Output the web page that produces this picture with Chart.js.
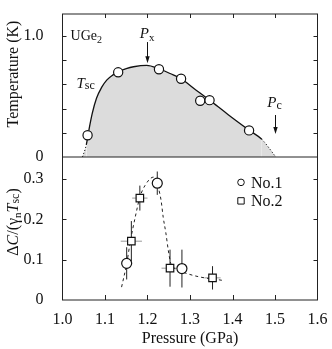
<!DOCTYPE html>
<html>
<head>
<meta charset="utf-8">
<script src="https://cdn.jsdelivr.net/npm/chart.js@4/dist/chart.umd.min.js"></script>
<style>
	html, body { margin: 0; padding: 0; background: #fff; }
	#wrap { position: relative; width: 332px; height: 349px; }
</style>
</head>
<body>
<div id="wrap"><canvas id="chart" width="332" height="349"></canvas></div>
<script>
const FONT = "'Liberation Serif', 'Times New Roman', serif";

// top panel: measured Tsc points
const tscP = [1.059, 1.131, 1.227, 1.279, 1.324, 1.346, 1.439];
const tscT = [0.18, 0.70, 0.725, 0.647, 0.465, 0.47, 0.22];
// Tsc guide line (ends are dotted)
const lineP = [1.047, 1.056, 1.062, 1.070, 1.080, 1.092, 1.104, 1.118, 1.131, 1.150, 1.167, 1.198, 1.227, 1.253, 1.279, 1.310, 1.346, 1.390, 1.439, 1.469, 1.502];
const lineT = [0, 0.10, 0.22, 0.36, 0.485, 0.575, 0.636, 0.677, 0.703, 0.730, 0.746, 0.758, 0.730, 0.690, 0.647, 0.565, 0.470, 0.350, 0.222, 0.146, 0];

// bottom panel: jump of specific heat
const no1P = [1.151, 1.223, 1.281];
const no1C = [0.091, 0.290, 0.078];
const no1Err = [0.04, 0.029, 0.047];
const no2P = [1.162, 1.182, 1.253, 1.353];
const no2C = [0.146, 0.253, 0.079, 0.055];
const no2Err = [0.05, 0.031, 0.046, 0.029];
const no2PErr = [0.025, 0.018, 0.02, 0.019];
// dashed guide
const fitP = [1.139, 1.151, 1.160, 1.171, 1.182, 1.194, 1.214, 1.225, 1.232, 1.237, 1.243, 1.249, 1.255, 1.265, 1.292, 1.324, 1.375];
const fitC = [0.032, 0.09, 0.148, 0.205, 0.255, 0.284, 0.305, 0.280, 0.247, 0.205, 0.168, 0.123, 0.09, 0.078, 0.066, 0.057, 0.049];

const xLabelText = "Pressure (GPa)";

const pts = (xs, ys) => xs.map((x, i) => ({ x: x, y: ys[i] }));

function drawRich(ctx, parts, x, y) {
	let cx = x;
	parts.forEach((p) => {
		ctx.font = (p.italic ? "italic " : "") + p.size + "px " + FONT;
		ctx.fillText(p.t, cx, y + (p.dy || 0));
		cx += ctx.measureText(p.t).width;
	});
	return cx - x;
}
function richWidth(ctx, parts) {
	let w = 0;
	parts.forEach((p) => {
		ctx.font = (p.italic ? "italic " : "") + p.size + "px " + FONT;
		w += ctx.measureText(p.t).width;
	});
	return w;
}
function arrow(ctx, x, y1, y2) {
	ctx.beginPath();
	ctx.moveTo(x, y1);
	ctx.lineTo(x, y2 - 5);
	ctx.stroke();
	ctx.beginPath();
	ctx.moveTo(x, y2);
	ctx.lineTo(x - 2.2, y2 - 7);
	ctx.lineTo(x + 2.2, y2 - 7);
	ctx.closePath();
	ctx.fill();
}
// keep the plot box where the picture has it
function fixBox(width, height) {
	return (s) => {
		if (width) s.width = width;
		if (height) s.height = height;
		s.paddingTop = 0;
		s.paddingBottom = 0;
		s.paddingLeft = 0;
		s.paddingRight = 0;
	};
}

const framePlugin = {
	id: "frame",
	beforeDatasetsDraw(chart) {
		// error bars
		const ctx = chart.ctx;
		const x = chart.scales.x;
		const y = chart.scales.yB;
		ctx.save();
		ctx.lineWidth = 1;
		ctx.strokeStyle = "#999";
		no2P.forEach((p, i) => {
			const py = y.getPixelForValue(no2C[i]);
			ctx.beginPath();
			ctx.moveTo(x.getPixelForValue(p - no2PErr[i]), py);
			ctx.lineTo(x.getPixelForValue(p + no2PErr[i]), py);
			ctx.stroke();
		});
		ctx.strokeStyle = "#222";
		const vbar = (p, c, e) => {
			const px = x.getPixelForValue(p);
			ctx.beginPath();
			ctx.moveTo(px, y.getPixelForValue(c - e));
			ctx.lineTo(px, y.getPixelForValue(c + e));
			ctx.stroke();
		};
		no1P.forEach((p, i) => vbar(p, no1C[i], no1Err[i]));
		no2P.forEach((p, i) => vbar(p, no2C[i], no2Err[i]));
		ctx.restore();
	},
	afterDraw(chart) {
		const ctx = chart.ctx;
		const a = chart.chartArea;
		const x = chart.scales.x;
		const yT = chart.scales.yT;
		const yB = chart.scales.yB;
		ctx.save();
		ctx.strokeStyle = "#222";
		ctx.lineWidth = 1;
		ctx.strokeRect(a.left, a.top, a.right - a.left, a.bottom - a.top);
		const mid = yT.getPixelForValue(0);
		ctx.beginPath();
		ctx.moveTo(a.left, mid);
		ctx.lineTo(a.right, mid);
		ctx.stroke();
		// inward ticks
		ctx.beginPath();
		x.ticks.forEach((t) => {
			if (t.value <= 1.0001 || t.value >= 1.5999) return;
			const px = Math.round(x.getPixelForValue(t.value)) + 0.5;
			ctx.moveTo(px, a.top);
			ctx.lineTo(px, a.top + 4);
			ctx.moveTo(px, a.bottom);
			ctx.lineTo(px, a.bottom - 5);
		});
		[yT, yB].forEach((s) => {
			s.ticks.forEach((t) => {
				if (t.value === 0) return;
				const py = Math.round(s.getPixelForValue(t.value)) + 0.5;
				ctx.moveTo(a.left, py);
				ctx.lineTo(a.left + 4, py);
				ctx.moveTo(a.right, py);
				ctx.lineTo(a.right - 4, py);
			});
		});
		ctx.stroke();

		// axis titles (rotated)
		ctx.fillStyle = "#111";
		ctx.textBaseline = "alphabetic";
		const t1 = [{ t: "Temperature (K)", size: 16 }];
		ctx.save();
		ctx.translate(18, 74);
		ctx.rotate(-Math.PI / 2);
		drawRich(ctx, t1, -richWidth(ctx, t1) / 2, 0);
		ctx.restore();
		const t2 = [
			{ t: "\u0394", size: 16 },
			{ t: "C", size: 16, italic: true },
			{ t: "/(\u03b3", size: 16 },
			{ t: "n", size: 11, dy: 3 },
			{ t: "T", size: 16, italic: true },
			{ t: "sc", size: 12, dy: 1 },
			{ t: ")", size: 16 },
		];
		ctx.save();
		ctx.translate(18, 222);
		ctx.rotate(-Math.PI / 2);
		drawRich(ctx, t2, -richWidth(ctx, t2) / 2, 0);
		ctx.restore();

		// labels in top panel
		const bl = (v, s) => s.getPixelForValue(v);
		drawRich(ctx, [{ t: "UGe", size: 14 }, { t: "2", size: 10, dy: 3 }], x.getPixelForValue(1.019), bl(0.97, yT));
		drawRich(ctx, [{ t: "P", size: 15, italic: true }, { t: "x", size: 11, dy: 3 }], x.getPixelForValue(1.182), bl(0.985, yT));
		drawRich(ctx, [{ t: "T", size: 15, italic: true }, { t: "sc", size: 12, dy: 1 }], x.getPixelForValue(1.033), bl(0.57, yT));
		drawRich(ctx, [{ t: "P", size: 15, italic: true }, { t: "c", size: 12, dy: 2 }], x.getPixelForValue(1.482), bl(0.415, yT));
		ctx.fillStyle = "#111";
		ctx.strokeStyle = "#111";
		arrow(ctx, Math.round(x.getPixelForValue(1.2)) + 0.5, bl(0.95, yT), bl(0.775, yT));
		arrow(ctx, Math.round(x.getPixelForValue(1.5)) + 0.5, bl(0.347, yT), bl(0.19, yT));

		// legend for the bottom panel
		const lx = x.getPixelForValue(1.42);
		let ly = yB.getPixelForValue(0.292);
		chart.data.datasets.filter((d) => d.label).forEach((d) => {
			ctx.lineWidth = 1;
			ctx.strokeStyle = "#111";
			ctx.beginPath();
			if (d.pointStyle === "rect") ctx.rect(lx - 3.2, ly - 3.2, 6.4, 6.4);
			else ctx.arc(lx, ly, 3.3, 0, Math.PI * 2);
			ctx.stroke();
			ctx.font = "16px " + FONT;
			ctx.textBaseline = "middle";
			ctx.fillText(d.label, lx + 10, ly + 1);
			ly += 18.5;
		});
		ctx.restore();
	},
};

new Chart(document.getElementById("chart"), {
	type: "scatter",
	data: {
		datasets: [
			{
				data: pts(tscP, tscT),
				yAxisID: "yT",
				pointStyle: "circle",
				pointRadius: 4.6,
				pointBorderWidth: 1.2,
				pointBackgroundColor: "#fff",
				pointBorderColor: "#111",
				showLine: false,
				order: 1,
			},
			{
				data: pts(lineP, lineT),
				yAxisID: "yT",
				showLine: true,
				pointRadius: 0,
				borderColor: "#111",
				borderWidth: 1.3,
				backgroundColor: "#dcdcdc",
				fill: "origin",
				cubicInterpolationMode: "monotone",
				segment: {
					borderDash: (c) =>
						c.p0DataIndex === 0 || c.p1DataIndex === lineP.length - 1 ? [1.2, 2] : undefined,
					borderWidth: (c) =>
						c.p0DataIndex === 0 || c.p1DataIndex === lineP.length - 1 ? 1 : undefined,
				},
				order: 5,
			},
			{
				label: "No.1",
				data: pts(no1P, no1C),
				yAxisID: "yB",
				pointStyle: "circle",
				pointRadius: 5,
				pointBorderWidth: 1.2,
				pointBackgroundColor: "#fff",
				pointBorderColor: "#111",
				showLine: false,
				order: 1,
			},
			{
				label: "No.2",
				data: pts(no2P, no2C),
				yAxisID: "yB",
				pointStyle: "rect",
				pointRadius: 5.3,
				pointBorderWidth: 1.2,
				pointBackgroundColor: "#fff",
				pointBorderColor: "#111",
				showLine: false,
				order: 1,
			},
			{
				data: pts(fitP, fitC),
				yAxisID: "yB",
				showLine: true,
				pointRadius: 0,
				borderColor: "#222",
				borderWidth: 1,
				borderDash: [3, 3],
				cubicInterpolationMode: "monotone",
				fill: false,
				order: 4,
			},
		],
	},
	options: {
		responsive: false,
		animation: false,
		devicePixelRatio: 1,
		layout: { padding: { top: 14, right: 14.5, left: 0, bottom: 0 } },
		plugins: { legend: { display: false }, tooltip: { enabled: false } },
		scales: {
			x: {
				type: "linear",
				min: 1.0,
				max: 1.6,
				grid: { display: false },
				border: { display: false },
				ticks: {
					stepSize: 0.1,
					maxRotation: 0,
					padding: 2,
					color: "#111",
					font: { family: FONT, size: 16 },
					callback: (v) => v.toFixed(1),
				},
				title: {
					display: true,
					text: xLabelText,
					color: "#111",
					font: { family: FONT, size: 16 },
					padding: { top: 0, bottom: 1 },
				},
				afterFit: fixBox(0, 49),
			},
			// the first axis of a stack is drawn at the bottom
			yB: {
				type: "linear",
				position: "left",
				stack: "panels",
				stackWeight: 1,
				min: 0,
				max: 0.355,
				grid: { display: false },
				border: { display: false },
				ticks: {
					stepSize: 0.1,
					includeBounds: false,
					autoSkip: false,
					padding: 11,
					color: "#111",
					font: { family: FONT, size: 16 },
					callback: (v) => (v === 0 ? "0" : v.toFixed(1)),
				},
				afterFit: fixBox(62.5, 0),
			},
			yT: {
				type: "linear",
				position: "left",
				stack: "panels",
				stackWeight: 1,
				min: 0,
				max: 1.182,
				grid: { display: false },
				border: { display: false },
				ticks: {
					stepSize: 0.2,
					includeBounds: false,
					autoSkip: false,
					padding: 11,
					color: "#111",
					font: { family: FONT, size: 16 },
					callback: (v) => (v === 0 ? "0" : Math.abs(v - 1) < 1e-6 ? "1.0" : ""),
				},
				afterFit: fixBox(62.5, 0),
			},
		},
	},
	plugins: [framePlugin],
});
</script>
</body>
</html>
